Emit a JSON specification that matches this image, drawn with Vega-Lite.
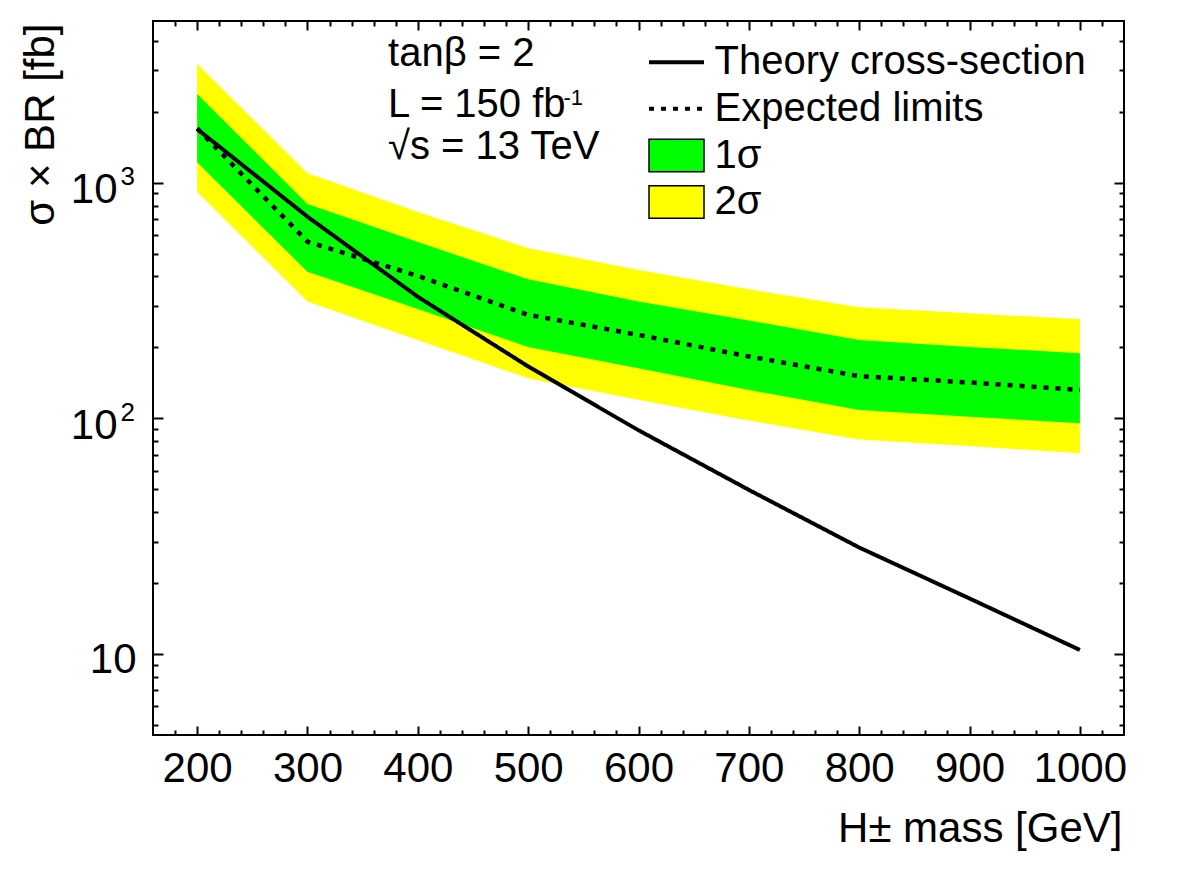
{
  "$schema": "https://vega.github.io/schema/vega-lite/v6.json",
  "width": 971,
  "height": 714,
  "autosize": {"type": "none"},
  "padding": {"left": 153, "top": 21, "right": 58, "bottom": 151},
  "background": "white",
  "config": {
    "view": {"stroke": "black", "strokeWidth": 2},
    "font": "Liberation Sans",
    "axis": {
      "grid": false, "domain": false, "tickColor": "black", "tickWidth": 2,
      "labelColor": "black", "titleColor": "black",
      "labelFont": "Liberation Sans", "titleFont": "Liberation Sans",
      "titleFontWeight": "normal", "labelFontSize": 42, "titleFontSize": 42,
      "labelFlush": false, "labelOverlap": false, "labelBound": false
    },
    "legend": {"labelFont": "Liberation Sans", "labelColor": "black"}
  },
  "data": {
    "values": [
      {"mass": 200, "theory": 1690, "expected": 1700, "lo1": 1221, "hi1": 2379, "lo2": 916, "hi2": 3190},
      {"mass": 300, "theory": 717, "expected": 562, "lo1": 419, "hi1": 812, "lo2": 313, "hi2": 1096},
      {"mass": 400, "theory": 328, "expected": 402, "lo1": 291, "hi1": 560, "lo2": 215, "hi2": 751},
      {"mass": 500, "theory": 166, "expected": 275, "lo1": 201, "hi1": 389, "lo2": 148, "hi2": 527},
      {"mass": 600, "theory": 89, "expected": 226, "lo1": 163, "hi1": 313, "lo2": 120, "hi2": 426},
      {"mass": 700, "theory": 49.7, "expected": 183, "lo1": 132, "hi1": 260, "lo2": 98, "hi2": 353},
      {"mass": 800, "theory": 28.3, "expected": 151, "lo1": 108.5, "hi1": 215, "lo2": 81.3, "hi2": 296},
      {"mass": 900, "theory": 17.2, "expected": 142, "lo1": 101.6, "hi1": 201, "lo2": 76.3, "hi2": 279},
      {"mass": 1000, "theory": 10.4, "expected": 132, "lo1": 95.3, "hi1": 189, "lo2": 71.1, "hi2": 263}
    ]
  },
  "layer": [
    {
      "mark": {"type": "area", "opacity": 1, "interpolate": "linear"},
      "encoding": {
        "x": {
          "field": "mass", "type": "quantitative",
          "scale": {"domain": [160, 1040], "nice": false, "zero": false},
          "axis": {
            "orient": "bottom", "values": [200, 300, 400, 500, 600, 700, 800, 900, 1000],
            "format": "d", "tickSize": -9, "labelPadding": 22,
            "title": "H± mass [GeV]", "titleX": 969, "titleY": 106,
            "titleAlign": "right", "titleBaseline": "alphabetic", "titleAngle": 0
          }
        },
        "y": {
          "field": "lo2", "type": "quantitative",
          "scale": {"type": "log", "domain": [4.53, 4855], "nice": false},
          "axis": {
            "orient": "left", "values": [10, 100, 1000],
            "labelExpr": "datum.value == 10 ? '10' : ''",
            "tickSize": -10, "labelPadding": 27, "labelAlign": "right",
            "labelBaseline": "alphabetic", "labelOffset": 19,
            "title": "σ × BR [fb]", "titleAngle": -90, "titleAlign": "right",
            "titleBaseline": "alphabetic", "titleX": -100, "titleY": 2
          }
        },
        "y2": {"field": "hi2"},
        "fill": {
          "datum": "2σ", "type": "nominal",
          "scale": {"domain": ["1σ", "2σ"], "range": ["#00ff00", "#ffff00"]},
          "legend": {
            "orient": "none", "legendX": 503.5, "legendY": 114.5, "direction": "vertical",
            "title": null, "padding": 0,
            "symbolType": "M-1.571,-0.926H1.571V0.926H-1.571Z", "symbolSize": 1225,
            "symbolStrokeColor": "black", "symbolStrokeWidth": 1.5, "symbolOpacity": 1,
            "labelFontSize": 40, "labelOffset": 18, "labelLimit": 0, "rowPadding": 6.5,
            "encode": {"symbols": {"update": {"stroke": {"value": "black"}, "strokeWidth": {"value": 1.5}, "opacity": {"value": 1}}}}
          }
        }
      }
    },
    {
      "mark": {"type": "area", "opacity": 1, "interpolate": "linear"},
      "encoding": {
        "x": {
          "field": "mass", "type": "quantitative",
          "axis": {
            "orient": "bottom", "labels": false, "title": null, "tickSize": -5,
            "values": [180, 220, 240, 260, 280, 320, 340, 360, 380, 420, 440, 460, 480, 520, 540, 560, 580, 620, 640, 660, 680, 720, 740, 760, 780, 820, 840, 860, 880, 920, 940, 960, 980, 1020]
          }
        },
        "y": {
          "field": "lo1", "type": "quantitative",
          "axis": {
            "orient": "left", "labels": false, "title": null, "tickSize": -5,
            "values": [5, 6, 7, 8, 9, 20, 30, 40, 50, 60, 70, 80, 90, 200, 300, 400, 500, 600, 700, 800, 900, 2000, 3000, 4000]
          }
        },
        "y2": {"field": "hi1"},
        "fill": {"datum": "1σ", "type": "nominal"}
      }
    },
    {
      "mark": {"type": "line", "color": "black", "strokeWidth": 4},
      "encoding": {
        "x": {
          "field": "mass", "type": "quantitative",
          "axis": {"orient": "top", "labels": false, "title": null, "tickSize": -9, "values": [200, 300, 400, 500, 600, 700, 800, 900, 1000]}
        },
        "y": {
          "field": "theory", "type": "quantitative",
          "axis": {"orient": "right", "labels": false, "title": null, "tickSize": -10, "values": [10, 100, 1000]}
        },
        "strokeDash": {
          "datum": "Theory cross-section", "type": "nominal",
          "scale": {"domain": ["Theory cross-section", "Expected limits"], "range": [[1, 0], [5, 7]]},
          "legend": {
            "orient": "none", "legendX": 503.5, "legendY": 21.3, "direction": "vertical",
            "title": null, "padding": 0,
            "symbolType": "M-1.571,0H1.571", "symbolSize": 1225,
            "symbolStrokeColor": "black", "symbolStrokeWidth": 4,
            "labelFontSize": 40, "labelOffset": 18, "labelLimit": 0, "rowPadding": 6.5,
            "encode": {"symbols": {"update": {"stroke": {"value": "black"}, "strokeWidth": {"value": 4}, "fill": {"value": "transparent"}}}}
          }
        }
      }
    },
    {
      "mark": {"type": "line", "color": "black", "strokeWidth": 4.5},
      "encoding": {
        "x": {
          "field": "mass", "type": "quantitative",
          "axis": {
            "orient": "top", "labels": false, "title": null, "tickSize": -5,
            "values": [180, 220, 240, 260, 280, 320, 340, 360, 380, 420, 440, 460, 480, 520, 540, 560, 580, 620, 640, 660, 680, 720, 740, 760, 780, 820, 840, 860, 880, 920, 940, 960, 980, 1020]
          }
        },
        "y": {
          "field": "expected", "type": "quantitative",
          "axis": {
            "orient": "right", "labels": false, "title": null, "tickSize": -5,
            "values": [5, 6, 7, 8, 9, 20, 30, 40, 50, 60, 70, 80, 90, 200, 300, 400, 500, 600, 700, 800, 900, 2000, 3000, 4000]
          }
        },
        "strokeDash": {"datum": "Expected limits", "type": "nominal"}
      }
    },
    {
      "data": {"values": [{"label": "tanβ = 2"}]},
      "mark": {"type": "text", "align": "left", "baseline": "alphabetic", "fontSize": 40, "font": "Liberation Sans", "color": "black"},
      "encoding": {
        "text": {"field": "label"},
        "x": {"datum": 373, "type": "quantitative", "axis": null},
        "y": {
          "datum": 3128, "type": "quantitative",
          "axis": {
            "orient": "left", "values": [100, 1000],
            "labelExpr": "datum.value == 100 ? '2' : '3'", "labelFontSize": 26,
            "tickSize": -10, "tickOpacity": 0, "labelPadding": 28.5, "labelAlign": "right",
            "labelBaseline": "alphabetic", "labelOffset": 2, "title": null
          }
        }
      }
    },
    {
      "data": {"values": [{"label": "L = 150 fb"}]},
      "mark": {"type": "text", "align": "left", "baseline": "alphabetic", "fontSize": 40, "font": "Liberation Sans", "color": "black"},
      "encoding": {
        "text": {"field": "label"},
        "x": {"datum": 373, "type": "quantitative", "axis": null},
        "y": {
          "datum": 1895, "type": "quantitative",
          "axis": {
            "orient": "left", "values": [100, 1000], "labelExpr": "'10'",
            "tickSize": -10, "tickOpacity": 0, "labelPadding": 46, "labelAlign": "right",
            "labelBaseline": "alphabetic", "labelOffset": 20, "title": null
          }
        }
      }
    },
    {
      "data": {"values": [{"label": "-1"}]},
      "mark": {"type": "text", "align": "left", "baseline": "alphabetic", "fontSize": 22, "font": "Liberation Sans", "color": "black"},
      "encoding": {
        "text": {"field": "label"},
        "x": {"datum": 532, "type": "quantitative", "axis": null},
        "y": {"datum": 2137, "type": "quantitative", "axis": null}
      }
    },
    {
      "data": {"values": [{"label": "√s = 13 TeV"}]},
      "mark": {"type": "text", "align": "left", "baseline": "alphabetic", "fontSize": 40, "font": "Liberation Sans", "color": "black"},
      "encoding": {
        "text": {"field": "label"},
        "x": {"datum": 373, "type": "quantitative", "axis": null},
        "y": {"datum": 1261, "type": "quantitative", "axis": null}
      }
    }
  ],
  "resolve": {"axis": {"x": "independent", "y": "independent"}}
}
